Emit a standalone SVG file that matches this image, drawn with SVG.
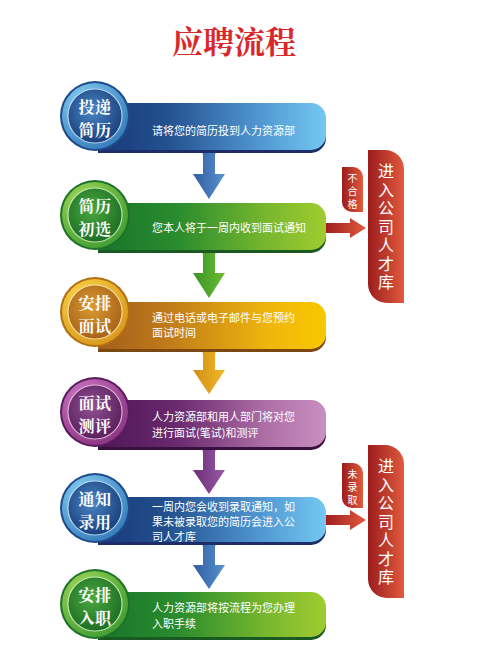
<svg xmlns="http://www.w3.org/2000/svg" width="486" height="659" viewBox="0 0 486 659">
<style>
.title{font-family:"Noto Serif CJK SC","Noto Sans CJK SC",serif;font-size:31px;font-weight:bold;fill:#d9282b;text-anchor:middle}
.ct{font-family:"Noto Serif CJK SC","Noto Sans CJK SC",serif;font-size:16px;font-weight:bold;fill:#fff;text-anchor:middle;letter-spacing:0.5px}
.bt{font-family:"Noto Sans CJK SC",sans-serif;font-size:11px;fill:#fff}
.pt{font-family:"Noto Sans CJK SC",sans-serif;font-size:16px;fill:#fff;writing-mode:vertical-rl;letter-spacing:2.5px}
.st{font-family:"Noto Sans CJK SC",sans-serif;font-size:10px;fill:#fff;writing-mode:vertical-rl;letter-spacing:3px}
</style>
<defs>
<linearGradient id="barBlue" x1="0" y1="0" x2="1" y2="0"><stop offset="0" stop-color="#1a3878"/><stop offset="0.3" stop-color="#22508e"/><stop offset="0.7" stop-color="#4f95d0"/><stop offset="1" stop-color="#74c8f2"/></linearGradient>
<linearGradient id="barGreen" x1="0" y1="0" x2="1" y2="0"><stop offset="0" stop-color="#17752a"/><stop offset="0.35" stop-color="#2a8c2e"/><stop offset="0.75" stop-color="#7ab82e"/><stop offset="1" stop-color="#a0cc30"/></linearGradient>
<linearGradient id="barGold" x1="0" y1="0" x2="1" y2="0"><stop offset="0" stop-color="#a35e1c"/><stop offset="0.3" stop-color="#bf7a1a"/><stop offset="0.75" stop-color="#efb60c"/><stop offset="1" stop-color="#f8c800"/></linearGradient>
<linearGradient id="barPurple" x1="0" y1="0" x2="1" y2="0"><stop offset="0" stop-color="#4e1656"/><stop offset="0.35" stop-color="#6a2a6e"/><stop offset="0.75" stop-color="#b070a8"/><stop offset="1" stop-color="#c890c0"/></linearGradient>
<radialGradient id="ringBlue" cx="0.35" cy="0.3" r="0.8"><stop offset="0" stop-color="#8fd4f8"/><stop offset="1" stop-color="#2f78b8"/></radialGradient>
<radialGradient id="inBlue" cx="0.45" cy="0.4" r="0.65"><stop offset="0" stop-color="#4a86c4"/><stop offset="1" stop-color="#163a78"/></radialGradient>
<radialGradient id="ringGreen" cx="0.35" cy="0.3" r="0.8"><stop offset="0" stop-color="#a8dc5a"/><stop offset="1" stop-color="#3a9a30"/></radialGradient>
<radialGradient id="inGreen" cx="0.45" cy="0.4" r="0.65"><stop offset="0" stop-color="#4aa83e"/><stop offset="1" stop-color="#1a6a24"/></radialGradient>
<radialGradient id="ringGold" cx="0.35" cy="0.3" r="0.8"><stop offset="0" stop-color="#fcd84a"/><stop offset="1" stop-color="#d8941a"/></radialGradient>
<radialGradient id="inGold" cx="0.45" cy="0.4" r="0.65"><stop offset="0" stop-color="#dc9a30"/><stop offset="1" stop-color="#a45e18"/></radialGradient>
<radialGradient id="ringPurple" cx="0.35" cy="0.3" r="0.8"><stop offset="0" stop-color="#d07ac8"/><stop offset="1" stop-color="#86307e"/></radialGradient>
<radialGradient id="inPurple" cx="0.45" cy="0.4" r="0.65"><stop offset="0" stop-color="#925092"/><stop offset="1" stop-color="#561c5a"/></radialGradient>
<linearGradient id="arBlue" x1="0" y1="0" x2="1" y2="0"><stop offset="0" stop-color="#2f5e9e"/><stop offset="1" stop-color="#5a92d2"/></linearGradient>
<linearGradient id="arGreen" x1="0" y1="0" x2="1" y2="0"><stop offset="0" stop-color="#3a9424"/><stop offset="1" stop-color="#6cbc34"/></linearGradient>
<linearGradient id="arGold" x1="0" y1="0" x2="1" y2="0"><stop offset="0" stop-color="#d08e14"/><stop offset="1" stop-color="#f2b82a"/></linearGradient>
<linearGradient id="arPurple" x1="0" y1="0" x2="1" y2="0"><stop offset="0" stop-color="#6a2e76"/><stop offset="1" stop-color="#9a5aa6"/></linearGradient>
<linearGradient id="red" x1="0" y1="0" x2="1" y2="0"><stop offset="0" stop-color="#9c1c1c"/><stop offset="1" stop-color="#e05a3e"/></linearGradient>
</defs>

<text class="title" x="234" y="53">应聘流程</text>

<g id="connectors">
<path fill="url(#arBlue)" d="M198 150 Q203 150 203 156 L203 174 L193 174 L209 199 L225 174 L215 174 L215 156 Q215 150 220 150 Z"/>
<path fill="url(#arGreen)" d="M198 250 Q203 250 203 256 L203 273 L193 273 L209 298 L225 273 L215 273 L215 256 Q215 250 220 250 Z"/>
<path fill="url(#arGold)" d="M198 349 Q203 349 203 355 L203 370 L193 370 L209 394 L225 370 L215 370 L215 355 Q215 349 220 349 Z"/>
<path fill="url(#arPurple)" d="M198 447 Q203 447 203 453 L203 470 L193 470 L209 494 L225 470 L215 470 L215 453 Q215 447 220 447 Z"/>
<path fill="url(#arBlue)" d="M198 542 Q203 542 203 548 L203 565 L193 565 L209 589 L225 565 L215 565 L215 548 Q215 542 220 542 Z"/>
<path fill="url(#red)" d="M324 223 L350 223 L350 218 L366 228 L350 238 L350 233 L324 233 Z"/>
<path fill="url(#red)" d="M324 515 L350 515 L350 510 L366 520 L350 530 L350 525 L324 525 Z"/>
</g>

<g id="step1">
<path fill="#1f2c6c" d="M98 106 H311 A15 15 0 0 1 326 121 V138 A15 15 0 0 1 311 153 H98 Z"/>
<path fill="url(#barBlue)" d="M98 103 H311 A15 15 0 0 1 326 118 V135 A15 15 0 0 1 311 150 H98 Z"/>
<circle cx="95" cy="116" r="35" fill="#1d4a88"/>
<circle cx="95" cy="116" r="33" fill="url(#ringBlue)"/>
<circle cx="95" cy="116" r="27" fill="url(#inBlue)" stroke="#dff2ff" stroke-opacity="0.7" stroke-width="1.2"/>
<text class="ct" x="95" y="112.5">投递</text>
<text class="ct" x="95" y="136">简历</text>
<text class="bt" x="152" y="135">请将您的简历投到人力资源部</text>
</g>

<g id="step2">
<path fill="#1a5a22" d="M98 206 H311 A15 15 0 0 1 326 221 V238 A15 15 0 0 1 311 253 H98 Z"/>
<path fill="url(#barGreen)" d="M98 203 H311 A15 15 0 0 1 326 218 V235 A15 15 0 0 1 311 250 H98 Z"/>
<circle cx="95" cy="215" r="35" fill="#1e7228"/>
<circle cx="95" cy="215" r="33" fill="url(#ringGreen)"/>
<circle cx="95" cy="215" r="27" fill="url(#inGreen)" stroke="#eaffd8" stroke-opacity="0.7" stroke-width="1.2"/>
<text class="ct" x="95" y="211.5">简历</text>
<text class="ct" x="95" y="235">初选</text>
<text class="bt" x="152" y="232">您本人将于一周内收到面试通知</text>
</g>

<g id="step3">
<path fill="#7a4810" d="M98 305 H311 A15 15 0 0 1 326 320 V337 A15 15 0 0 1 311 352 H98 Z"/>
<path fill="url(#barGold)" d="M98 302 H311 A15 15 0 0 1 326 317 V334 A15 15 0 0 1 311 349 H98 Z"/>
<circle cx="95" cy="312" r="35" fill="#b07012"/>
<circle cx="95" cy="312" r="33" fill="url(#ringGold)"/>
<circle cx="95" cy="312" r="27" fill="url(#inGold)" stroke="#fff6d0" stroke-opacity="0.7" stroke-width="1.2"/>
<text class="ct" x="95" y="308.5">安排</text>
<text class="ct" x="95" y="332">面试</text>
<text class="bt" x="152" y="322">通过电话或电子邮件与您预约</text>
<text class="bt" x="152" y="337">面试时间</text>
</g>

<g id="step4">
<path fill="#3a1040" d="M98 403 H311 A15 15 0 0 1 326 418 V435 A15 15 0 0 1 311 450 H98 Z"/>
<path fill="url(#barPurple)" d="M98 400 H311 A15 15 0 0 1 326 415 V432 A15 15 0 0 1 311 447 H98 Z"/>
<circle cx="95" cy="412" r="35" fill="#5a1a5e"/>
<circle cx="95" cy="412" r="33" fill="url(#ringPurple)"/>
<circle cx="95" cy="412" r="27" fill="url(#inPurple)" stroke="#fbe0f8" stroke-opacity="0.7" stroke-width="1.2"/>
<text class="ct" x="95" y="408.5">面试</text>
<text class="ct" x="95" y="432">测评</text>
<text class="bt" x="152" y="421">人力资源部和用人部门将对您</text>
<text class="bt" x="152" y="437">进行面试(笔试)和测评</text>
</g>

<g id="step5">
<path fill="#1f2c6c" d="M98 500 H311 A15 15 0 0 1 326 515 V530 A15 15 0 0 1 311 545 H98 Z"/>
<path fill="url(#barBlue)" d="M98 497 H311 A15 15 0 0 1 326 512 V527 A15 15 0 0 1 311 542 H98 Z"/>
<circle cx="95" cy="508" r="35" fill="#1d4a88"/>
<circle cx="95" cy="508" r="33" fill="url(#ringBlue)"/>
<circle cx="95" cy="508" r="27" fill="url(#inBlue)" stroke="#dff2ff" stroke-opacity="0.7" stroke-width="1.2"/>
<text class="ct" x="95" y="504.5">通知</text>
<text class="ct" x="95" y="528">录用</text>
<text class="bt" x="152" y="511">一周内您会收到录取通知，如</text>
<text class="bt" x="152" y="526">果未被录取您的简历会进入公</text>
<text class="bt" x="152" y="541">司人才库</text>
</g>

<g id="step6">
<path fill="#1a5a22" d="M98 595 H311 A15 15 0 0 1 326 610 V625 A15 15 0 0 1 311 640 H98 Z"/>
<path fill="url(#barGreen)" d="M98 592 H311 A15 15 0 0 1 326 607 V622 A15 15 0 0 1 311 637 H98 Z"/>
<circle cx="95" cy="604" r="35" fill="#1e7228"/>
<circle cx="95" cy="604" r="33" fill="url(#ringGreen)"/>
<circle cx="95" cy="604" r="27" fill="url(#inGreen)" stroke="#eaffd8" stroke-opacity="0.7" stroke-width="1.2"/>
<text class="ct" x="95" y="600.5">安排</text>
<text class="ct" x="95" y="624">入职</text>
<text class="bt" x="152" y="612">人力资源部将按流程为您办理</text>
<text class="bt" x="152" y="628">入职手续</text>
</g>

<g id="pool1">
<path fill="url(#red)" d="M368 150 H385 A19 19 0 0 1 404 169 V303 H387 A19 19 0 0 1 368 284 Z"/>
<text class="pt" x="386" y="163">进入公司人才库</text>
</g>
<g id="label1">
<path fill="url(#red)" d="M342 167 H353 A10 10 0 0 1 363 177 V212 H352 A10 10 0 0 1 342 202 Z"/>
<text class="st" x="352.5" y="173">不合格</text>
</g>

<g id="pool2">
<path fill="url(#red)" d="M368 445 H385 A19 19 0 0 1 404 464 V598 H387 A19 19 0 0 1 368 579 Z"/>
<text class="pt" x="386" y="458">进入公司人才库</text>
</g>
<g id="label2">
<path fill="url(#red)" d="M342 463 H353 A10 10 0 0 1 363 473 V508 H352 A10 10 0 0 1 342 498 Z"/>
<text class="st" x="352.5" y="469">未录取</text>
</g>
</svg>
